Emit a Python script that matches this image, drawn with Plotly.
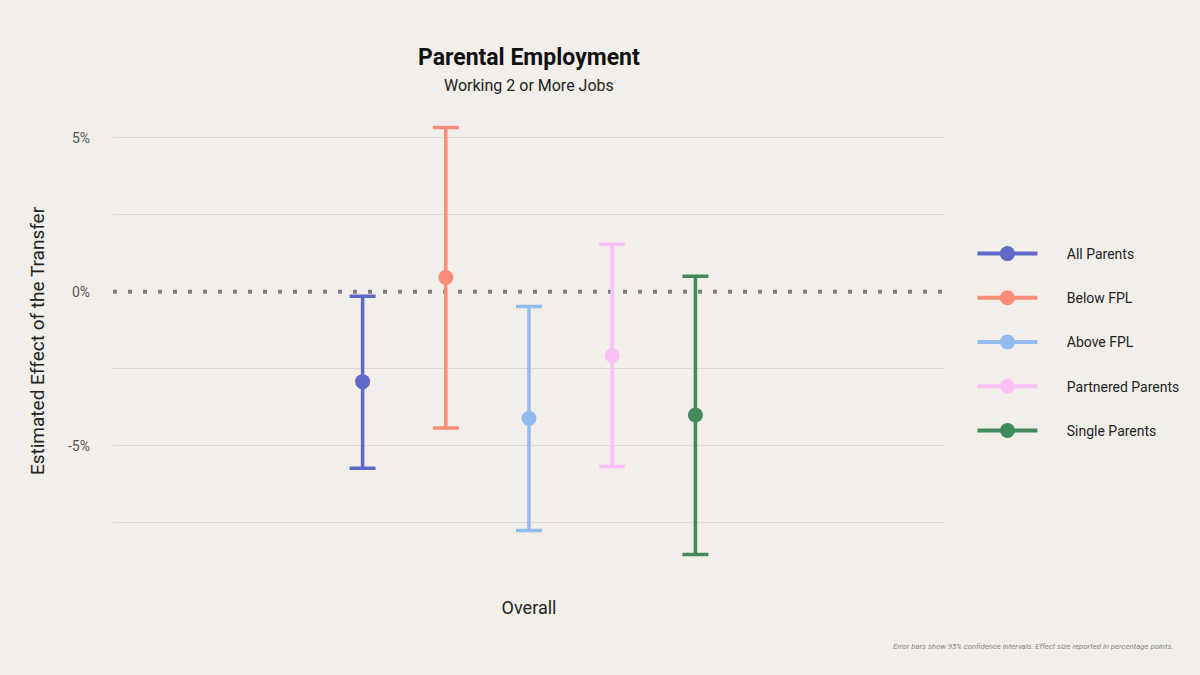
import plotly.graph_objects as go

categories = ["Overall"]
groups = ["All Parents", "Below FPL", "Above FPL", "Partnered Parents", "Single Parents"]
estimates = [-2.92, 0.46, -4.11, -2.07, -4.00]
upper = [-0.15, 5.33, -0.48, 1.54, 0.50]
lower = [-5.73, -4.42, -7.75, -5.67, -8.53]
colors = ["#6068C8", "#FA8D79", "#92BCF0", "#FBC0F6", "#418A5B"]
ytick_vals = [-5, 0, 5]
ytick_text = ["-5%", "0%", "5%"]
grid_vals = [-7.5, -5, -2.5, 2.5, 5]

BG = "#F2EFEB"
FONT = "Roboto"

fig = go.Figure()
for i, g in enumerate(groups):
    fig.add_trace(go.Scatter(
        x=categories, y=[estimates[i]],
        name="&nbsp;&nbsp;&nbsp;&nbsp;&nbsp;&nbsp;&nbsp;" + g, mode="lines+markers",
        offsetgroup=g, legendgroup=g,
        marker=dict(size=15, color=colors[i]),
        line=dict(color=colors[i], width=4),
        error_y=dict(type="data", symmetric=False,
                     array=[upper[i] - estimates[i]],
                     arrayminus=[estimates[i] - lower[i]],
                     color=colors[i], thickness=3.5, width=13),
    ))

fig.add_shape(type="line", xref="paper", yref="y", x0=0, x1=1, y0=0, y1=0,
              line=dict(color="#7F7F7F", width=4, dash="4px,11px"), layer="below")

H_plot = 675 - 113 - 106
W_plot = 1200 - 113 - 255
def py(ypix):
    return (675 - 106 - ypix) / H_plot
def px(xpix):
    return (xpix - 113) / W_plot

fig.update_layout(
    width=1200, height=675,
    paper_bgcolor=BG, plot_bgcolor=BG,
    font=dict(family=FONT, color="#222"),
    margin=dict(l=113, r=255, t=113, b=106),
    scattermode="group", scattergap=0.5,
    showlegend=True,
    legend=dict(x=1.033, y=py(238), xanchor="left", yanchor="top",
                font=dict(size=14, color="#222"), itemwidth=60,
                tracegroupgap=23, bgcolor="rgba(0,0,0,0)"),
    xaxis=dict(type="category", showgrid=False, zeroline=False, showline=False,
               tickfont=dict(size=18, color="#222"), ticks="", ticklabelstandoff=26),
    yaxis=dict(range=[-9, 5.8], tickvals=ytick_vals, ticktext=ytick_text,
               showgrid=False, zeroline=False,
               minor=dict(tickvals=grid_vals, showgrid=True, gridcolor="#DCD8D3",
                          gridwidth=1, ticks=""),
               showline=False, ticks="", tickfont=dict(size=14, color="#555"),
               ticklabelstandoff=22,
               title=dict(text="Estimated Effect of the Transfer", font=dict(size=19, color="#222"),
                          standoff=18)),
    annotations=[
        dict(text="<b>Parental Employment</b>", x=0.5, y=py(58), xref="paper", yref="paper",
             yanchor="middle", showarrow=False, font=dict(size=23, color="#111")),
        dict(text="Working 2 or More Jobs", x=0.5, y=py(85), xref="paper", yref="paper",
             yanchor="middle", showarrow=False, font=dict(size=16, color="#222")),
        dict(text="<i>Error bars show 95% confidence intervals. Effect size reported in percentage points.</i>",
             x=px(1175), y=py(646), xref="paper", yref="paper", xanchor="right", yanchor="middle",
             showarrow=False, font=dict(size=7.8, color="#888")),
    ],
)

fig.write_html("out.html")
